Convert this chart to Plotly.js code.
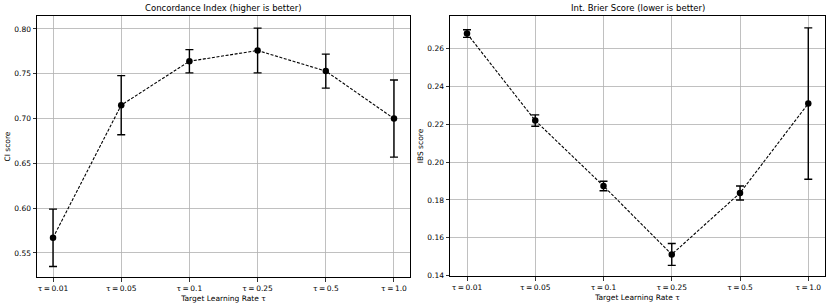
<!DOCTYPE html>
<html><head><meta charset="utf-8">
<script src="https://cdn.plot.ly/plotly-3.0.1.min.js"></script>
<style>body{margin:0;padding:0;background:#fff}#plot{width:830px;height:306px}</style>
</head><body><div id="plot"></div>
<script>
const categories = ["τ\u2009=\u20090.01", "τ\u2009=\u20090.05", "τ\u2009=\u20090.1", "τ\u2009=\u20090.25", "τ\u2009=\u20090.5", "τ\u2009=\u20091.0"];
const ciMean = [0.567, 0.715, 0.764, 0.776, 0.753, 0.700];
const ciErr  = [0.032, 0.033, 0.013, 0.025, 0.019, 0.043];
const ibsMean = [0.268, 0.222, 0.1874, 0.1512, 0.1837, 0.231];
const ibsErr  = [0.002, 0.003, 0.0025, 0.0058, 0.0037, 0.040];

const font = {family: "DejaVu Sans", size: 7.5, color: "#000"};
function trace(y, err, xa, ya) {
  return {
    x: categories, y: y, xaxis: xa, yaxis: ya, type: "scatter", mode: "lines+markers",
    line: {color: "#000", dash: "3px,1.6px", width: 1.1},
    marker: {color: "#000", size: 6.5},
    error_y: {type: "data", array: err, visible: true, color: "#000", thickness: 1.4, width: 4},
    showlegend: false, cliponaxis: false
  };
}
const axBase = {
  showline: true, mirror: true, linecolor: "#000", linewidth: 1,
  showgrid: true, gridcolor: "#b0b0b0", gridwidth: 0.8,
  ticks: "outside", ticklen: 3.5, tickwidth: 0.8, tickcolor: "#000",
  tickfont: font, zeroline: false, fixedrange: true
};
const layout = {
  width: 830, height: 306, margin: {l: 0, r: 0, t: 0, b: 0},
  paper_bgcolor: "#fff", plot_bgcolor: "#fff", font: font,
  xaxis: Object.assign({}, axBase, {domain: [37/830, 410/830], anchor: "y", type: "category",
    range: [-0.235, 5.235], title: {text: "Target Learning Rate τ", font: font, standoff: 4}}),
  yaxis: Object.assign({}, axBase, {domain: [1-277/306, 1-16/306], anchor: "x",
    range: [0.5232, 0.8145], dtick: 0.05, tick0: 0.5, tickformat: ".2f",
    title: {text: "CI score", font: font, standoff: 2}}),
  xaxis2: Object.assign({}, axBase, {domain: [450/830, 825/830], anchor: "y2", type: "category",
    range: [-0.249, 5.245], title: {text: "Target Learning Rate τ", font: font, standoff: 4}}),
  yaxis2: Object.assign({}, axBase, {domain: [1-276/306, 1-16/306], anchor: "x2",
    range: [0.1398, 0.2773], dtick: 0.02, tick0: 0.14, tickformat: ".2f",
    title: {text: "IBS score", font: font, standoff: 2}}),
  annotations: [
    {text: "Concordance Index (higher is better)", xref: "paper", yref: "paper",
     x: (37+410)/2/830, y: 1-8/306, xanchor: "center", yanchor: "middle", showarrow: false,
     font: {family: "DejaVu Sans", size: 8.5, color: "#000"}},
    {text: "Int. Brier Score (lower is better)", xref: "paper", yref: "paper",
     x: (450+825)/2/830, y: 1-8/306, xanchor: "center", yanchor: "middle", showarrow: false,
     font: {family: "DejaVu Sans", size: 8.5, color: "#000"}}
  ]
};
Plotly.newPlot("plot", [trace(ciMean, ciErr, "x", "y"), trace(ibsMean, ibsErr, "x2", "y2")], layout, {staticPlot: true});
</script></body></html>
